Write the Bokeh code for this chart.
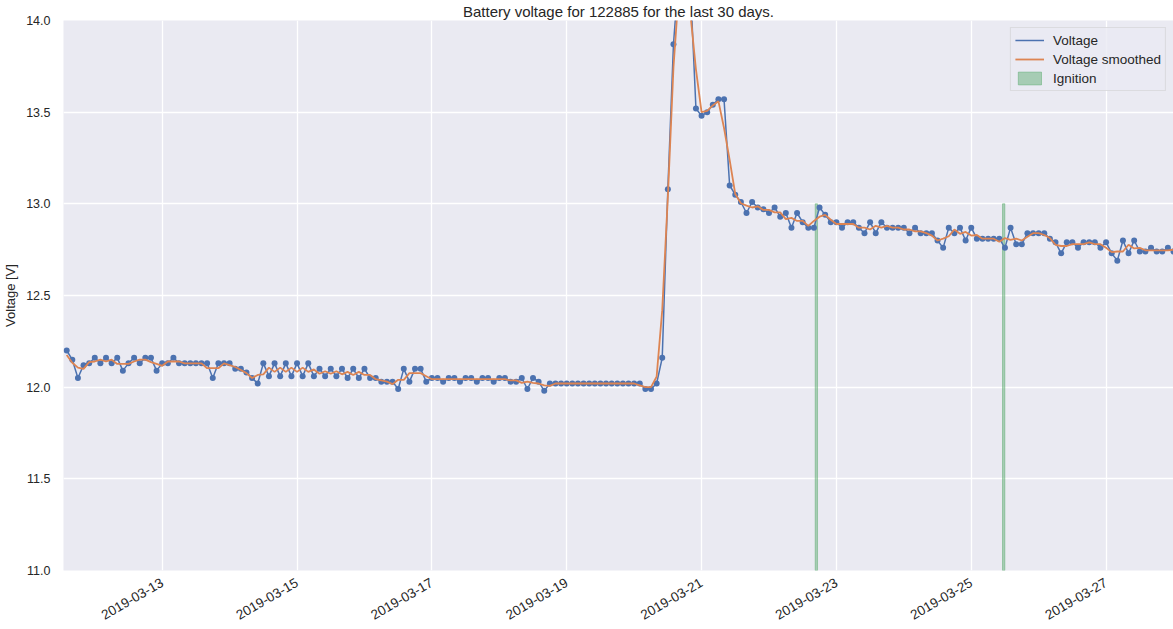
import pandas as pd
from math import pi
from bokeh.plotting import figure
from bokeh.models import (ColumnDataSource, FixedTicker, DatetimeTickFormatter,
                          PrintfTickFormatter, Legend, LegendItem, Range1d)
from bokeh.embed import file_html
from bokeh.resources import INLINE

# ---------------- data ----------------
title_text = "Battery voltage for 122885 for the last 30 days."
y_label = "Voltage [V]"
series_names = ["Voltage", "Voltage smoothed", "Ignition"]

sample_start = "2019-03-11 14:00"   # one reading every 2 hours
sample_step = "2h"

v_0311 = [12.20, 12.15, 12.05, 12.12, 12.13]
v_0312 = [12.16, 12.13, 12.16, 12.13, 12.16, 12.09, 12.13, 12.16, 12.13, 12.16, 12.16, 12.09]
v_0313 = [12.13, 12.13, 12.16, 12.13, 12.13, 12.13, 12.13, 12.13, 12.13, 12.05, 12.13, 12.13]
v_0314 = [12.13, 12.10, 12.10, 12.08, 12.05, 12.02, 12.13, 12.06, 12.13, 12.06, 12.13, 12.06]
v_0315 = [12.13, 12.06, 12.13, 12.06, 12.10, 12.06, 12.10, 12.06, 12.10, 12.05, 12.10, 12.05]
v_0316 = [12.10, 12.05, 12.05, 12.03, 12.03, 12.03, 11.99, 12.10, 12.03, 12.10, 12.10, 12.03]
v_0317 = [12.05, 12.05, 12.03, 12.05, 12.05, 12.03, 12.05, 12.05, 12.03, 12.05, 12.05, 12.03]
v_0318 = [12.05, 12.05, 12.03, 12.03, 12.05, 11.99, 12.05, 12.03, 11.98, 12.02, 12.02, 12.02]
v_0319 = [12.02, 12.02, 12.02, 12.02, 12.02, 12.02, 12.02, 12.02, 12.02, 12.02, 12.02, 12.02]
v_0320 = [12.02, 12.02, 11.99, 11.99, 12.02, 12.16, 13.08, 13.87, 14.28, 14.40, 14.20, 13.52]
v_0321 = [13.48, 13.50, 13.54, 13.57, 13.57, 13.10, 13.05, 13.01, 12.95, 13.01, 12.98, 12.97]
v_0322 = [12.95, 12.98, 12.93, 12.95, 12.87, 12.95, 12.90, 12.87, 12.87, 12.98, 12.94, 12.90]
v_0323 = [12.90, 12.87, 12.90, 12.90, 12.87, 12.84, 12.90, 12.84, 12.90, 12.87, 12.87, 12.87]
v_0324 = [12.87, 12.84, 12.87, 12.84, 12.84, 12.84, 12.80, 12.76, 12.87, 12.84, 12.87, 12.80]
v_0325 = [12.87, 12.81, 12.81, 12.81, 12.81, 12.81, 12.76, 12.87, 12.78, 12.78, 12.84, 12.84]
v_0326 = [12.84, 12.84, 12.81, 12.79, 12.73, 12.79, 12.79, 12.76, 12.79, 12.79, 12.79, 12.76]
v_0327 = [12.79, 12.73, 12.69, 12.80, 12.73, 12.80, 12.74, 12.74, 12.76, 12.74, 12.74, 12.76]
v_0328 = [12.74]

voltage = (v_0311 + v_0312 + v_0313 + v_0314 + v_0315 + v_0316 + v_0317 + v_0318 +
           v_0319 + v_0320 + v_0321 + v_0322 + v_0323 + v_0324 + v_0325 + v_0326 +
           v_0327 + v_0328)

ignition_start = ["2019-03-22 16:27", "2019-03-25 11:08"]
ignition_end = ["2019-03-22 17:17", "2019-03-25 11:58"]
ignition_top = [13.0, 13.0]
ignition_bottom = [11.0, 11.0]

x_tick_dates = ["2019-03-13", "2019-03-15", "2019-03-17", "2019-03-19",
                "2019-03-21", "2019-03-23", "2019-03-25", "2019-03-27"]
y_ticks = [11.0, 11.5, 12.0, 12.5, 13.0, 13.5, 14.0]
x_limits = ["2019-03-11 12:52", "2019-03-28 00:00"]
y_limits = [11.0, 14.0]

# ---------------- styling ----------------
BLUE = "#4C72B0"
ORANGE = "#DD8452"
GREEN = "#55A868"
BG = "#EAEAF2"
TXT = "#262626"
FONT = "Liberation Sans"

times = pd.date_range(sample_start, periods=len(voltage), freq=sample_step)
smoothed = pd.Series(voltage).rolling(3, center=True, min_periods=1).mean().values
src = ColumnDataSource(dict(t=times, v=voltage, s=smoothed))
ign = ColumnDataSource(dict(left=pd.to_datetime(ignition_start),
                            right=pd.to_datetime(ignition_end),
                            top=ignition_top, bottom=ignition_bottom))

def ms(d):
    return pd.Timestamp(d).value // 10**6

x0, x1 = pd.Timestamp(x_limits[0]), pd.Timestamp(x_limits[1])

p = figure(width=1173, height=629, x_axis_type="datetime",
           x_range=Range1d(x0, x1), y_range=Range1d(*y_limits),
           output_backend="svg", toolbar_location=None,
           min_border_left=63, min_border_right=0, min_border_top=20, min_border_bottom=59)
p.background_fill_color = BG
p.border_fill_color = "white"
p.outline_line_color = None

p.title.text = title_text
p.title.align = "center"
p.title.vertical_align = "middle"
p.title.text_font = FONT
p.title.text_font_size = "15px"
p.title.text_font_style = "normal"
p.title.text_color = TXT
p.title.standoff = 0
p.title.offset = 0

q = p.quad(left="left", right="right", top="top", bottom="bottom", source=ign,
           fill_color=GREEN, fill_alpha=0.45, line_color=GREEN, line_alpha=0.45)
bl = p.line("t", "v", source=src, line_color=BLUE, line_width=1.5)
p.scatter("t", "v", source=src, size=6, fill_color=BLUE, line_color=None)
ol = p.line("t", "s", source=src, line_color=ORANGE, line_width=1.8)

# axes
xt = FixedTicker(ticks=[ms(d) for d in x_tick_dates])
p.xaxis.ticker = xt
p.xgrid.ticker = xt
fmt = "%Y-%m-%d"
p.xaxis.formatter = DatetimeTickFormatter(days=fmt, months=fmt, hours=fmt, years=fmt,
                                          minutes=fmt, hourmin=fmt)
yt = FixedTicker(ticks=y_ticks)
p.yaxis.ticker = yt
p.ygrid.ticker = yt
p.yaxis.formatter = PrintfTickFormatter(format="%.1f")
p.xaxis.major_label_orientation = pi / 6

for ax in (p.xaxis, p.yaxis):
    ax.axis_line_color = None
    ax.major_tick_line_color = None
    ax.minor_tick_line_color = None
    ax.major_tick_out = 0
    ax.major_tick_in = 0
    ax.minor_tick_out = 0
    ax.major_label_text_font = FONT
    ax.major_label_text_color = TXT
p.yaxis.major_label_text_font_size = "12.5px"
p.xaxis.major_label_text_font_size = "13.5px"
p.xaxis.major_label_standoff = 11
p.yaxis.major_label_standoff = 13
p.yaxis.axis_label = y_label
p.yaxis.axis_label_text_font = FONT
p.yaxis.axis_label_text_font_size = "13px"
p.yaxis.axis_label_text_font_style = "normal"
p.yaxis.axis_label_text_color = TXT
p.yaxis.axis_label_standoff = 5

for g in (p.xgrid, p.ygrid):
    g.grid_line_color = "white"
    g.grid_line_width = 1.3

legend = Legend(items=[LegendItem(label=series_names[0], renderers=[bl]),
                       LegendItem(label=series_names[1], renderers=[ol]),
                       LegendItem(label=series_names[2], renderers=[q])],
                location="top_right")
legend.label_text_font = FONT
legend.label_text_font_size = "13.5px"
legend.label_text_color = TXT
legend.glyph_width = 29
legend.glyph_height = 16
legend.label_height = 16
legend.label_standoff = 9
legend.spacing = 3
legend.padding = 4
legend.margin = 7
legend.background_fill_color = BG
legend.background_fill_alpha = 0.8
legend.border_line_color = "#CCCCCC"
legend.border_line_width = 1
p.add_layout(legend)

open("out.html", "w").write(file_html(p, INLINE))
